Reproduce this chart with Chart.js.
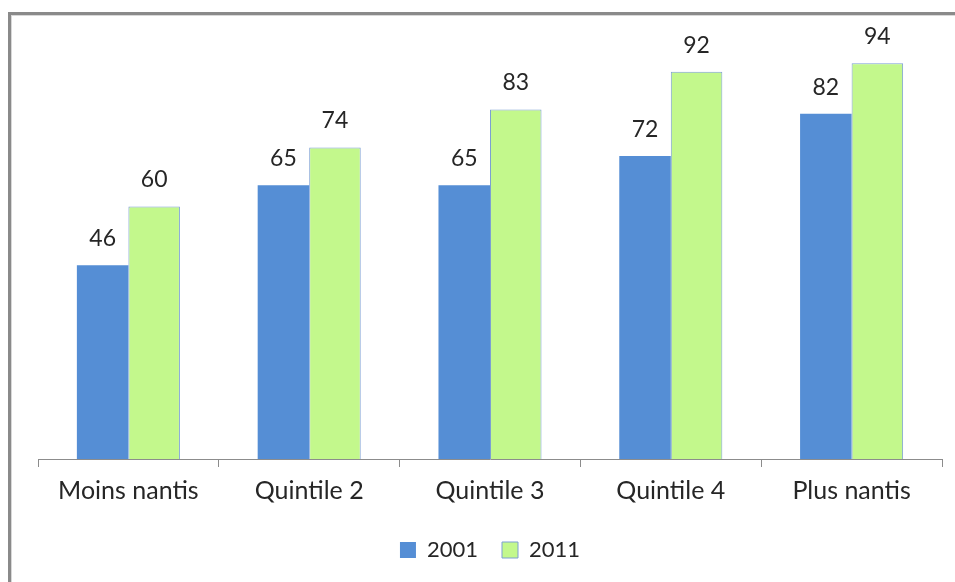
<!DOCTYPE html>
<html>
<head>
<meta charset="utf-8">
<script src="https://cdn.jsdelivr.net/npm/chart.js@4/dist/chart.umd.min.js"></script>
<style>
  html, body { margin: 0; padding: 0; background: #fff; }
  #wrap { width: 955px; height: 582px; }
</style>
</head>
<body>
<div id="wrap"><canvas id="chart" width="955" height="582"></canvas></div>
<script>
// Taux par quintile de richesse, 2001 et 2011
const categories = ['Moins nantis', 'Quintile 2', 'Quintile 3', 'Quintile 4', 'Plus nantis'];
const values2001 = [46, 65, 65, 72, 82];
const values2011 = [60, 74, 83, 92, 94];
const seriesLabels = ['2001', '2011'];

const FONT = 'Lato, "Open Sans", sans-serif';
const TEXT = '#262626';

// Grey frame around the chart
const framePlugin = {
    id: 'frame',
    beforeDraw(chart) {
        const ctx = chart.ctx;
        ctx.save();
        ctx.strokeStyle = '#8a8a8a';
        ctx.lineWidth = 3;
        ctx.strokeRect(9.5, 13.5, 960, 600);
        ctx.strokeStyle = '#d8d8d8';
        ctx.lineWidth = 1;
        ctx.strokeRect(11.5, 15.5, 960, 600);
        ctx.restore();
    }
};

// Value labels above each bar
const valueLabels = {
    id: 'valueLabels',
    afterDatasetsDraw(chart) {
        const ctx = chart.ctx;
        ctx.save();
        ctx.font = '23px ' + FONT;
        ctx.fillStyle = TEXT;
        ctx.textAlign = 'center';
        ctx.textBaseline = 'bottom';
        chart.data.datasets.forEach((ds, i) => {
            chart.getDatasetMeta(i).data.forEach((bar, j) => {
                ctx.fillText(ds.data[j], bar.x, bar.y - 15);
            });
        });
        ctx.restore();
    }
};

new Chart(document.getElementById('chart'), {
    type: 'bar',
    data: {
        labels: categories,
        datasets: [{
            label: seriesLabels[0],
            data: values2001,
            backgroundColor: '#558ed5',
            borderColor: '#558ed5',
            borderWidth: 0
        }, {
            label: seriesLabels[1],
            data: values2011,
            backgroundColor: '#c3f88c',
            borderColor: '#7c9fd3',
            borderWidth: 1
        }]
    },
    options: {
        responsive: false,
        animation: false,
        layout: { padding: { left: 38, right: 13, top: 38, bottom: 11 } },
        datasets: {
            bar: { categoryPercentage: 0.57, barPercentage: 1.0 }
        },
        plugins: {
            legend: {
                position: 'bottom',
                labels: {
                    font: { family: FONT, size: 22 },
                    color: TEXT,
                    boxWidth: 16,
                    boxHeight: 16,
                    padding: 24
                }
            },
            tooltip: { enabled: false }
        },
        scales: {
            x: {
                grid: {
                    offset: true,
                    drawOnChartArea: false,
                    drawTicks: true,
                    tickLength: 8,
                    color: '#8c8c8c'
                },
                border: { display: true, color: '#8c8c8c', width: 1 },
                ticks: {
                    font: { family: FONT, size: 25 },
                    color: TEXT,
                    padding: 9,
                    maxRotation: 0
                }
            },
            y: {
                display: false,
                min: 0,
                max: 100
            }
        }
    },
    plugins: [framePlugin, valueLabels]
});
</script>
</body>
</html>
